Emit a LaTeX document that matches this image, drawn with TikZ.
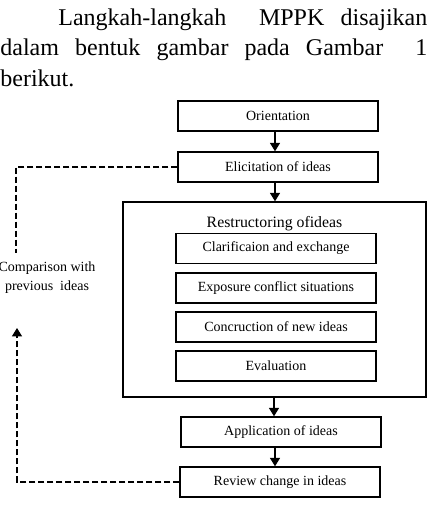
\documentclass[tikz,border=0pt]{standalone}
\usepackage{fontspec}
\setmainfont{Liberation Serif}
\usetikzlibrary{arrows.meta, positioning, calc}
\tikzset{
	stepbox/.style={rectangle, draw, line width=0.7pt, minimum width=100pt, minimum height=15pt, inner sep=1pt, font=\fontsize{7}{8}\selectfont},
	line/.style={draw, line width=0.6pt, -{Triangle[length=4.2pt, width=5pt]}}
}

\begin{document}
\begin{tikzpicture}[
		x=0.5pt, y=-0.5pt,
		outer/.style={rectangle, draw, line width=0.7pt, minimum width=151.5pt, minimum height=97.5pt, inner sep=0pt},
		loop/.style={draw, line width=0.6pt, dash pattern=on 3pt off 1.5pt}
		]
		\useasboundingbox (0,0) rectangle (427,507);
		
		% --- Paragraph above the figure ---
		\node[anchor=north west, inner sep=0pt, text width=213.5pt, align=justify, font=\fontsize{12}{15.4}\selectfont] (para) at (0,8)
		{\hspace*{29pt}Langkah-langkah\ \ MPPK disajikan\linebreak
			dalam bentuk gambar pada Gambar\ \ 1\linebreak
			berikut.};
		
		% --- Main column ---
		\node[stepbox] (orient) at (278,116) {Orientation};
		\node[stepbox] (elicit) at (278,167) {Elicitation of ideas};
		\node[outer] (restr) at (274.5,299.5) {};
		\node[below=4.2pt of restr.north, font=\fontsize{7.9}{9}\selectfont] (restr_title) {Restructoring ofideas};
		
		% --- Inner steps of restructuring ---
		\node[stepbox] (clarif) at (276,248.5) {Clarificaion and exchange};
		\node[stepbox] (expo) at (276,288) {Exposure conflict situations};
		\node[stepbox] (concr) at (276,327) {Concruction of new ideas};
		\node[stepbox] (eval) at (276,366) {Evaluation};
		
		\node[stepbox] (appl) at (281,432) {Application of ideas};
		\node[stepbox] (review) at (280,482) {Review change in ideas};
		
		% --- Arrows down the column ---
		\draw[line] (orient.south -| 275,0) -- (elicit.north -| 275,0);
		\draw[line] (elicit.south -| 275,0) -- (restr.north -| 275,0);
		\draw[line] (restr.south -| 274,0) -- (appl.north -| 274,0);
		\draw[line] (appl.south -| 275,0) -- (review.north -| 275,0);
		
		% --- Feedback loop (left side) ---
		\node[align=center, font=\fontsize{7}{9.5}\selectfont] (compare) at (47,278) {Comparison with\\previous\ \ ideas};
		\coordinate (loop_top) at (16,253);
		\coordinate (loop_tip) at (17,328);
		\draw[loop] (elicit.west) -| (loop_top);
		\draw[loop, -{Triangle[length=4.2pt, width=5pt]}] (review.west) -| (loop_tip);
		
	\end{tikzpicture}
\end{document}
